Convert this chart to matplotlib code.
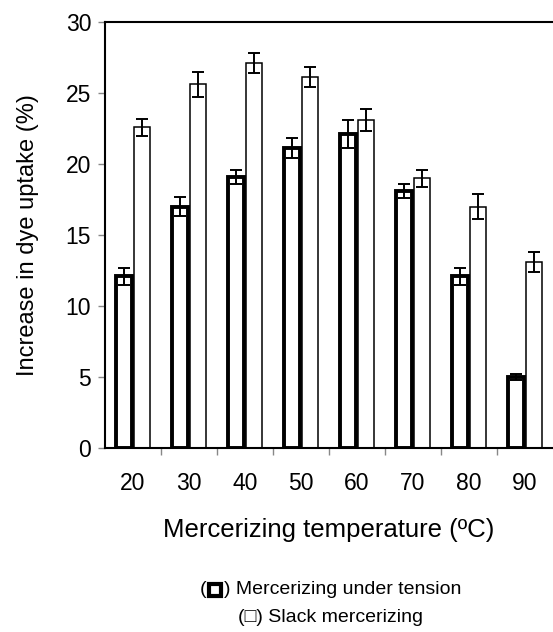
import numpy as np
import matplotlib
matplotlib.use('Agg')
import matplotlib.pyplot as plt
from matplotlib.lines import Line2D

plt.rcParams['font.family'] = ['Liberation Sans', 'DejaVu Sans']

# data
temps = ['20', '30', '40', '50', '60', '70', '80', '90']
tension = [12.1, 17.0, 19.1, 21.1, 22.1, 18.1, 12.1, 5.0]
tension_err = [0.6, 0.65, 0.5, 0.7, 1.0, 0.5, 0.6, 0.2]
slack = [22.6, 25.6, 27.1, 26.1, 23.1, 19.0, 17.0, 13.1]
slack_err = [0.6, 0.85, 0.7, 0.7, 0.8, 0.6, 0.9, 0.7]

W, H = 553, 632
fig = plt.figure(figsize=(W / 100, H / 100), dpi=100)
ax = fig.add_axes([105 / W, 1 - 448 / H, 448 / W, 426 / H])

x = np.arange(len(temps)) + 0.5
w = 0.29
ekw = dict(ecolor='black', elinewidth=1.4, capsize=4.5, capthick=1.4)
ax.bar(x - 0.155, tension, w, color='white', edgecolor='black', linewidth=2.8,
       yerr=tension_err, error_kw=ekw)
ax.bar(x + 0.155, slack, w, color='white', edgecolor='black', linewidth=1.1,
       yerr=slack_err, error_kw=ekw)

ax.set_xlim(0, 8)
ax.set_ylim(0, 30)
ax.set_yticks(range(0, 31, 5))
ax.set_xticks(x)
ax.set_xticklabels(temps)
ax.set_xticks(np.arange(1, 8), minor=True)
ax.tick_params(axis='x', which='major', length=0, pad=17, labelsize=16.5)
ax.tick_params(axis='x', which='minor', length=5, width=1, color='#888888')
ax.tick_params(axis='y', length=5, width=1, color='#888888', labelsize=16.5, pad=5)
ax.spines['right'].set_visible(False)
for s in ['left', 'bottom', 'top']:
    ax.spines[s].set_linewidth(1.5)

ax.set_ylabel('Increase in dye uptake (%)', fontsize=17, labelpad=19)
ax.set_xlabel('Mercerizing temperature (ºC)', fontsize=18.5, labelpad=17)

# legend written as captions below the chart
y1 = 1 - 590 / H
y2 = 1 - 618 / H
fig.text(206 / W, y1, '(', ha='right', va='center', fontsize=14)
fig.add_artist(Line2D([215 / W], [y1], marker='s', markersize=9,
                      markerfacecolor='white', markeredgecolor='black',
                      markeredgewidth=3, transform=fig.transFigure))
fig.text(224 / W, y1, ') Mercerizing under tension', ha='left', va='center', fontsize=14)
fig.text(238 / W, y2, '(\u25a1) Slack mercerizing', ha='left', va='center', fontsize=14)

fig.savefig('out.png', dpi=100)
